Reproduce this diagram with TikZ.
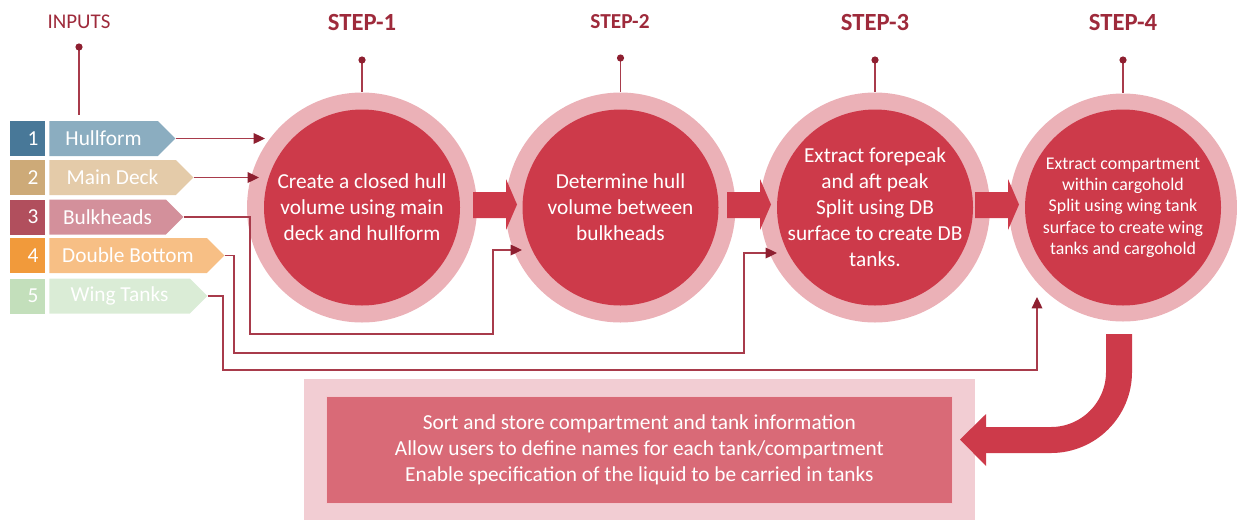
\documentclass[tikz,border=0pt]{standalone}
\usepackage{fontspec}
\setmainfont{Carlito}
\usetikzlibrary{shapes.symbols,arrows.meta,calc}

\definecolor{ring}{HTML}{EBB1B7}
\definecolor{core}{HTML}{CD3A4A}
\definecolor{wire}{HTML}{A83B4B}
\definecolor{tipc}{HTML}{8E1F30}
\definecolor{title}{HTML}{9E2A3B}
\definecolor{panelout}{HTML}{F2CDD3}
\definecolor{panelin}{HTML}{D96A77}
\definecolor{panelrim}{HTML}{F3C8CE}
\definecolor{numA}{HTML}{487898}\definecolor{tagA}{HTML}{8BADC0}
\definecolor{numB}{HTML}{CDAA78}\definecolor{tagB}{HTML}{E4CBA9}
\definecolor{numC}{HTML}{B14F5D}\definecolor{tagC}{HTML}{D3909B}
\definecolor{numD}{HTML}{F19A3B}\definecolor{tagD}{HTML}{F7BF85}
\definecolor{numE}{HTML}{C3DFBB}\definecolor{tagE}{HTML}{DAECD6}

\newcommand{\flowarrow}[1]{%
  \fill[core] (#1,192) -- ++(33,0) -- ++(0,-13) -- ++(11,25.5)
    -- ++(-11,25.5) -- ++(0,-12) -- ++(-33,0) -- cycle;}

\begin{document}
\begin{tikzpicture}[x=0.75pt,y=-0.75pt,
  txt/.style={font=\fontsize{16}{19.5}\selectfont},
  numbox/.style={fill=#1, minimum width=26.25pt, minimum height=26.25pt,
    inner sep=0pt, anchor=west, text=white, txt},
  tag/.style 2 args={signal, signal to=east, signal pointer angle=90,
    fill=#1, minimum width=#2, minimum height=26.25pt, inner sep=0pt,
    anchor=west, text=white, txt},
  stage/.style={circle, fill=ring, minimum size=#1, inner sep=0pt},
  coretext/.style={align=center, text=white, inner sep=0pt, txt},
  steptitle/.style={text=title, font=\bfseries\fontsize{#1}{#1}\selectfont},
  wire/.style={draw=wire, line width=0.9pt,
    -{Triangle[length=8.5pt,width=8pt,color=tipc]}},
  pin/.style={draw=wire, line width=0.9pt},
]
\useasboundingbox (0,0) rectangle (1237,519);

% ---- column titles and their pins
\node[text=title, font=\fontsize{15.7}{16}\selectfont] (tin) at (79,22) {INPUTS};
\node[steptitle=18.5] (t1) at (362,22) {STEP-1};
\node[steptitle=16]   (t2) at (620,22) {STEP-2};
\node[steptitle=18.5] (t3) at (875,22) {STEP-3};
\node[steptitle=18.5] (t4) at (1123,22) {STEP-4};

% ---- input list
\node[numbox=numA] (n1) at (10,138.5) {\hspace{8pt}1};
\node[numbox=numB] (n2) at (10,177.5) {\hspace{8pt}2};
\node[numbox=numC] (n3) at (10,217)   {\hspace{8pt}3};
\node[numbox=numD] (n4) at (10,255.5) {\hspace{8pt}4};
\node[numbox=numE] (n5) at (10,296)   {\hspace{8pt}5};
\node[tag={tagA}{94.5pt}]   (l1) at (49,138.5) {Hullform};
\node[tag={tagB}{108pt}]    (l2) at (49,177.5) {Main Deck};
\node[tag={tagC}{100.5pt}]  (l3) at (49,217)   {Bulkheads};
\node[tag={tagD}{131.25pt}] (l4) at (49,255.5) {Double Bottom};
\node[tag={tagE}{118.5pt}]  (l5) at (49,296)   {Wing Tanks};

% ---- process stages
\node[stage=172.5pt] (s1) at (362,207.5) {};
\node[stage=172.5pt] (s2) at (620.5,207.5) {};
\node[stage=172.5pt] (s3) at (875,207.5) {};
\node[stage=171pt]   (s4) at (1123,207.5) {};
\foreach \s in {s1,s2,s3,s4} \fill[core] (\s.center) circle (98);

\node[coretext] (c1) at (s1) {Create a closed hull\\volume using main\\deck and hullform};
\node[coretext] (c2) at (s2) {Determine hull\\volume between\\bulkheads};
\node[coretext] (c3) at (s3) {Extract forepeak\\and aft peak\\Split using DB\\surface to create DB\\tanks.};
\node[coretext, font=\fontsize{13.4}{16}\selectfont] (c4) at (s4)
  {Extract compartment\\within cargohold\\Split using wing tank\\surface to create wing\\tanks and cargohold};

% ---- pins above the columns
\coordinate (p0) at (79,47);
\coordinate (p1) at (362,60);
\coordinate (p2) at (620.5,58);
\coordinate (p3) at (875,60);
\coordinate (p4) at (1123,60);
\draw[pin] (p0) -- (79,115);
\draw[pin] (p1) -- (s1.north);
\draw[pin] (p2) -- (s2.north);
\draw[pin] (p3) -- (s3.north);
\draw[pin] (p4) -- (s4.north);
\foreach \p in {p0,p1,p2,p3,p4} \fill[tipc] (\p) circle (3.6);

% ---- flow between stages
\flowarrow{473}
\flowarrow{727}
\flowarrow{975}

% ---- input feeds
\coordinate (h1) at (265,138.5);
\coordinate (h2) at (259,177.5);
\coordinate (h3) at (522,250);
\coordinate (h4) at (777,253);
\coordinate (h5) at (1037,297);
\draw[wire] (l1.east) -- (h1);
\draw[wire] (l2.east) -- (h2);
\draw[wire] (l3.east) -| (250,334) -| (493,250) -- (h3);
\draw[wire] (l4.east) -| (234,353) -| (744,253) -- (h4);
\draw[wire] (l5.east) -| (223,370) -| (h5);

% ---- output panel
\node[fill=panelout, minimum width=503.25pt, minimum height=107.25pt,
  inner sep=0pt, anchor=north west] (po) at (304,379) {};
\node[fill=panelin, draw=panelrim, line width=0.6pt, minimum width=469.5pt,
  minimum height=80.25pt, inner sep=0pt, anchor=north west] (pi) at (326,396) {};
\node[coretext] (pt) at (pi) {Sort and store compartment and tank information\\
  Allow users to define names for each tank/compartment\\
  Enable specification of the liquid to be carried in tanks};

% ---- stage 4 hands over to the panel
\coordinate (q0) at (1119,334);
\draw[core, line width=19.5pt] (q0) -- (1119,372)
  .. controls (1119,409.5) and (1088.5,440) .. (1051,440) -- (985,440);
\fill[core] (986,414) -- (960,439.5) -- (986,466) -- cycle;
\end{tikzpicture}
\end{document}
